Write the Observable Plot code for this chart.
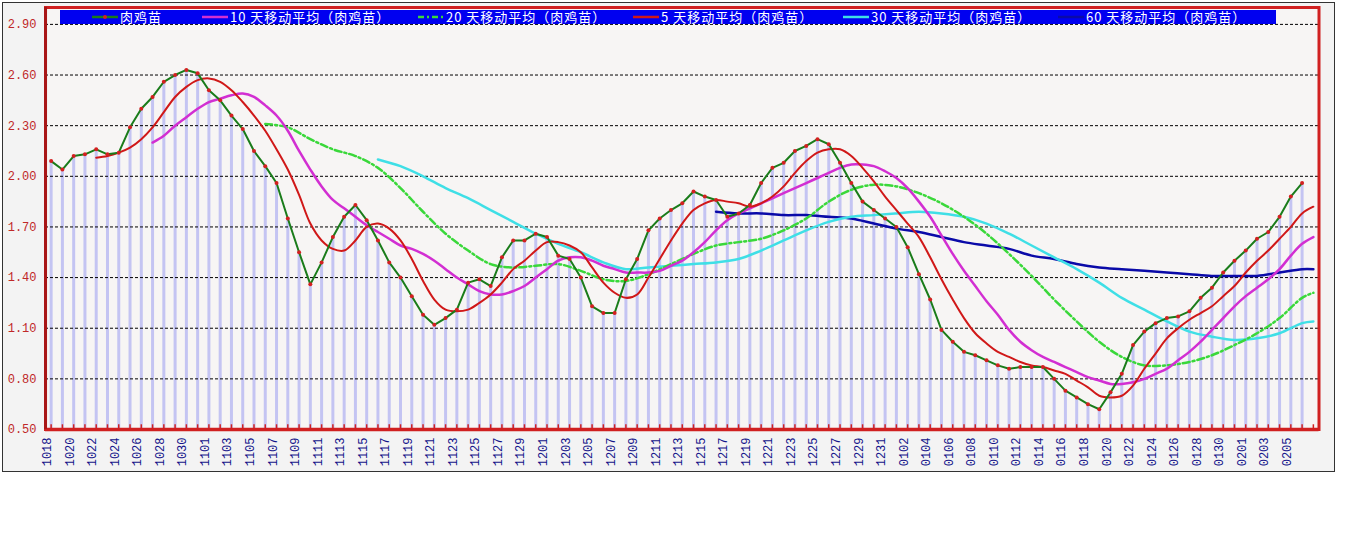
<!DOCTYPE html>
<html><head><meta charset="utf-8">
<script src="https://cdn.jsdelivr.net/npm/d3@7"></script>
<script src="https://cdn.jsdelivr.net/npm/@observablehq/plot@0.6"></script>
<style>
body{margin:0;background:#fff;}
#wrap{position:relative;width:1345px;height:541px;background:#fff;overflow:hidden;}
#outer{position:absolute;left:2px;top:2px;width:1331px;height:468px;border:1px solid #333;background:#f3f3f3;}
#chart{position:absolute;left:0;top:0;}
#legend{position:absolute;left:60px;top:10px;width:1216px;height:13.5px;background:#0000f0;}
.item{position:absolute;top:0;height:14px;}
.item svg{position:absolute;left:0;top:0;}
.item span{position:absolute;top:-2px;white-space:nowrap;color:#fff;font-family:"Noto Sans CJK SC";font-size:13px;line-height:17px;letter-spacing:1px;}
</style>
</head><body>
<div id="wrap"><div id="outer"></div><div id="chart"></div><div id="legend"></div></div>
<script>
// ---- categories (days) ----
const dates = [
 "1018","1019","1020","1021","1022","1023","1024","1025","1026","1027","1028","1029","1030","1031",
 "1101","1102","1103","1104","1105","1106","1107","1108","1109","1110","1111","1112","1113","1114","1115",
 "1116","1117","1118","1119","1120","1121","1122","1123","1124","1125","1126","1127","1128","1129","1130",
 "1201","1202","1203","1204","1205","1206","1207","1208","1209","1210","1211","1212","1213","1214","1215",
 "1216","1217","1218","1219","1220","1221","1222","1223","1224","1225","1226","1227","1228","1229","1230","1231",
 "0101","0102","0103","0104","0105","0106","0107","0108","0109","0110","0111","0112","0113","0114","0115",
 "0116","0117","0118","0119","0120","0121","0122","0123","0124","0125","0126","0127","0128","0129","0130","0131",
 "0201","0202","0203","0204","0205","0206","0207"];

const xTickLabels = [
 "1018","1020","1022","1024","1026","1028","1030","1101","1103","1105","1107","1109","1111","1113","1115",
 "1117","1119","1121","1123","1125","1127","1129","1201","1203","1205","1207","1209","1211","1213","1215",
 "1217","1219","1221","1223","1225","1227","1229","1231","0102","0104","0106","0108","0110","0112","0114",
 "0116","0118","0120","0122","0124","0126","0128","0130","0201","0203","0205"];

const yTicks = [0.5, 0.8, 1.1, 1.4, 1.7, 2.0, 2.3, 2.6, 2.9];
const yTickLabels = ["0.50","0.80","1.10","1.40","1.70","2.00","2.30","2.60","2.90"];

// ---- series: 肉鸡苗 (daily, 1018..0206) ----
const raw = [
 2.09,2.04,2.12,2.13,2.16,2.13,2.14,2.29,2.40,2.47,2.56,2.60,2.63,2.61,
 2.51,2.45,2.36,2.28,2.15,2.06,1.96,1.75,1.55,1.36,1.49,1.64,1.76,1.83,1.74,1.62,1.49,1.40,1.29,1.18,
 1.12,1.16,1.21,1.37,1.39,1.35,1.52,1.62,1.62,1.66,
 1.64,1.53,1.51,1.40,1.23,1.19,1.19,1.39,1.51,1.68,1.75,1.80,1.84,1.91,1.88,1.86,1.76,1.78,1.83,1.96,
 2.05,2.08,2.15,2.18,2.22,2.19,2.08,1.96,1.85,1.80,1.75,
 1.70,1.58,1.42,1.27,1.09,1.02,0.96,0.94,0.91,0.88,0.86,0.87,0.87,0.87,0.80,0.73,0.69,0.65,0.62,0.72,
 0.83,1.00,1.08,1.13,1.16,1.17,1.20,1.28,1.34,1.43,1.50,
 1.56,1.63,1.67,1.76,1.88,1.96];

// 5 天移动平均 (daily, 1022..0207)
const ma5Start = "1022";
const ma5 = [
 2.11,2.12,2.14,2.17,2.22,2.29,2.38,2.47,2.53,2.57,
 2.58,2.56,2.51,2.44,2.36,2.27,2.16,2.04,1.89,1.72,1.62,1.57,1.56,1.62,1.70,1.72,1.69,1.62,1.51,1.38,
 1.27,1.21,1.20,1.21,1.25,1.30,1.37,1.45,1.50,1.56,
 1.61,1.61,1.59,1.55,1.46,1.37,1.31,1.28,1.30,1.40,1.51,1.62,1.72,1.80,1.84,1.86,1.85,1.84,1.82,1.84,
 1.88,1.94,2.02,2.09,2.14,2.16,2.16,2.12,2.05,1.97,1.88,
 1.80,1.72,1.64,1.52,1.39,1.27,1.16,1.07,1.01,0.96,0.93,0.90,0.88,0.87,0.85,0.83,0.79,0.75,0.70,0.69,
 0.70,0.76,0.86,0.95,1.04,1.10,1.15,1.19,1.23,1.29,1.35,
 1.43,1.50,1.56,1.63,1.70,1.78,1.82];

// 10 天移动平均 (daily, 1027..0207)
const ma10Start = "1027";
const ma10 = [
 2.20,2.24,2.30,2.35,2.40,
 2.44,2.46,2.48,2.49,2.47,2.42,2.36,2.27,2.15,2.04,1.94,1.86,1.81,1.76,1.71,1.67,1.63,1.59,1.57,1.54,
 1.50,1.45,1.40,1.36,1.32,1.30,1.30,1.32,1.35,1.40,
 1.45,1.50,1.52,1.52,1.50,1.47,1.45,1.43,1.43,1.43,1.44,1.47,1.50,1.55,1.61,1.68,1.74,1.78,1.81,1.84,
 1.87,1.90,1.93,1.96,1.99,2.02,2.05,2.07,2.07,2.06,2.03,
 1.99,1.93,1.85,1.76,1.65,1.54,1.44,1.35,1.26,1.18,1.09,1.02,0.97,0.93,0.90,0.87,0.84,0.81,0.79,0.77,
 0.77,0.78,0.80,0.83,0.86,0.91,0.96,1.02,1.09,1.16,1.23,
 1.29,1.34,1.39,1.45,1.53,1.60,1.64];

// 20 天移动平均 (read every other day)
const ma20Dates = ["1106","1108","1110","1112","1114","1116","1118","1120","1122","1124","1126","1128","1130",
 "1202","1204","1206","1208","1210","1212","1214","1216","1218","1220","1222","1224","1226","1228","1230",
 "0101","0103","0105","0107","0109","0111","0113","0115","0117","0119","0121","0123","0125","0127","0129","0131",
 "0202","0204","0206","0207"];
const ma20 = [2.31,2.29,2.22,2.16,2.12,2.05,1.93,1.79,1.66,1.56,1.48,1.46,1.47,
 1.48,1.44,1.39,1.38,1.42,1.48,1.54,1.59,1.61,1.63,1.68,1.75,1.85,1.92,1.95,
 1.94,1.90,1.84,1.76,1.66,1.54,1.41,1.27,1.14,1.02,0.93,0.88,0.88,0.90,0.94,1.00,
 1.07,1.16,1.28,1.31];

// 30 天移动平均
const ma30Dates = ["1116","1118","1120","1122","1124","1126","1128","1130",
 "1202","1204","1206","1208","1210","1212","1214","1216","1218","1220","1222","1224","1226","1228","1230",
 "0101","0103","0105","0107","0109","0111","0113","0115","0117","0119","0121","0123","0125","0127","0129","0131",
 "0202","0204","0206","0207"];
const ma30 = [2.10,2.06,2.00,1.93,1.87,1.80,1.73,1.66,
 1.60,1.55,1.49,1.45,1.46,1.47,1.48,1.49,1.51,1.56,1.62,1.68,1.73,1.76,1.77,
 1.78,1.79,1.78,1.76,1.72,1.66,1.59,1.52,1.45,1.37,1.28,1.21,1.14,1.08,1.05,1.03,
 1.04,1.07,1.13,1.14];

// 60 天移动平均
const ma60Dates = ["1216","1218","1220","1222","1224","1226","1228","1230",
 "0101","0103","0105","0107","0109","0111","0113","0115","0117","0119","0121","0123","0125","0127","0129","0131",
 "0202","0204","0206","0207"];
const ma60 = [1.79,1.78,1.78,1.77,1.77,1.76,1.75,1.72,
 1.69,1.67,1.64,1.61,1.59,1.57,1.53,1.51,1.48,1.46,1.45,1.44,1.43,1.42,1.41,1.41,
 1.41,1.43,1.45,1.45];

const seriesNames = ["肉鸡苗","10 天移动平均（肉鸡苗）","20 天移动平均（肉鸡苗）","5 天移动平均（肉鸡苗）","30 天移动平均（肉鸡苗）","60 天移动平均（肉鸡苗）"];

// ---- styles ----
const C = {raw:"#1a7c1a", dot:"#d42020", ma5:"#d01818", ma10:"#d22fd2", ma20:"#3ad83a", ma30:"#3fdfe6", ma60:"#0a0aa8",
  bar:"#c4c4f2", frame:"#d02020", ylab:"#c02828", xlab:"#14148a"};
const mono = "Liberation Mono, DejaVu Sans Mono, monospace";

const rawData = raw.map((v,i)=>({date: dates[i], v}));
const fromStart = (start, vals) => { const s = dates.indexOf(start); return vals.map((v,i)=>({date: dates[s+i], v})); };
const pairs = (ds, vs) => ds.map((d,i)=>({date: d, v: vs[i]}));
const ma5Data = fromStart(ma5Start, ma5);
const ma10Data = fromStart(ma10Start, ma10);
const ma20Data = pairs(ma20Dates, ma20);
const ma30Data = pairs(ma30Dates, ma30);
const ma60Data = pairs(ma60Dates, ma60);

const chart = Plot.plot({
  width: 1345, height: 541,
  marginLeft: 45, marginRight: 26.5, marginTop: 7, marginBottom: 112,
  style: {background: "transparent", overflow: "visible"},
  x: {type: "point", domain: dates, padding: 0.5, axis: null},
  y: {domain: [0.5, 3.0], axis: null},
  marks: [
    Plot.frame({fill: "#f7f5f4", stroke: "none"}),
    Plot.ruleX(rawData, {x: "date", y1: 0.5, y2: "v", stroke: C.bar, strokeWidth: 3}),
    Plot.ruleY(yTicks.slice(1), {y: d => d, stroke: "#000", strokeWidth: 1, strokeDasharray: "3,2"}),
    Plot.line(ma60Data, {x: "date", y: "v", stroke: C.ma60, strokeWidth: 2.5, curve: "catmull-rom"}),
    Plot.line(ma30Data, {x: "date", y: "v", stroke: C.ma30, strokeWidth: 2.5, curve: "catmull-rom"}),
    Plot.line(ma20Data, {x: "date", y: "v", stroke: C.ma20, strokeWidth: 2.5, strokeDasharray: "7,3,2,3", curve: "catmull-rom"}),
    Plot.line(ma10Data, {x: "date", y: "v", stroke: C.ma10, strokeWidth: 2.5, curve: "catmull-rom"}),
    Plot.line(ma5Data, {x: "date", y: "v", stroke: C.ma5, strokeWidth: 2, curve: "catmull-rom"}),
    Plot.line(rawData, {x: "date", y: "v", stroke: C.raw, strokeWidth: 2}),
    Plot.dot(rawData, {x: "date", y: "v", r: 2, fill: C.dot, stroke: "none"}),
    Plot.ruleX(dates, {x: d => d, y1: 0.5, y2: 0.528, stroke: C.frame, strokeWidth: 1.5}),
    Plot.ruleY([0.5], {stroke: C.frame, strokeWidth: 3.5}),
    Plot.frame({stroke: C.frame, strokeWidth: 3}),
    Plot.ruleX([dates[0]], {x: d => d, y1: 0.5, y2: 3.0, dx: -5.6, stroke: "#a81616", strokeWidth: 3}),
    Plot.text(yTicks, {y: d => d, text: (d, i) => yTickLabels[i], frameAnchor: "left", textAnchor: "end", dx: -9,
      fill: C.ylab, fontFamily: mono, fontSize: 12}),
    Plot.text(xTickLabels, {x: d => d, text: d => d, frameAnchor: "bottom", rotate: -90, textAnchor: "end", dy: 8,
      fill: C.xlab, fontFamily: mono, fontSize: 12})
  ]
});
document.getElementById("chart").appendChild(chart);

// ---- legend (blue bar inside plot) ----
const legendItems = [
  {name: seriesNames[0], color: C.raw, left: 32, dot: true},
  {name: seriesNames[1], color: C.ma10, left: 142},
  {name: seriesNames[2], color: C.ma20, left: 358, dash: "6,3,2,3"},
  {name: seriesNames[3], color: C.ma5, left: 573},
  {name: seriesNames[4], color: C.ma30, left: 783},
  {name: seriesNames[5], color: C.ma60, left: 998}
];
const legend = document.getElementById("legend");
legendItems.forEach(it => {
  const div = document.createElement("div");
  div.className = "item";
  div.style.left = it.left + "px";
  div.innerHTML = `<svg width="27" height="14"><line x1="0" y1="7" x2="26" y2="7" stroke="${it.color}" stroke-width="2.5"${it.dash ? ` stroke-dasharray="${it.dash}"` : ""}/>${it.dot ? `<circle cx="13" cy="7" r="2" fill="${C.dot}"/>` : ""}</svg><span style="left:28px">${it.name}</span>`;
  legend.appendChild(div);
});
</script>
</body></html>
